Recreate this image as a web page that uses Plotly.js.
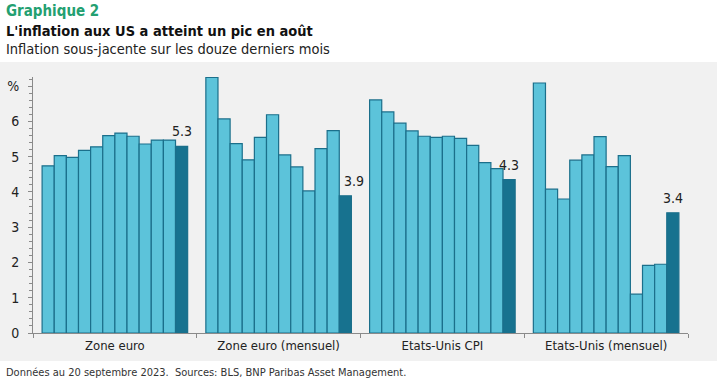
<!DOCTYPE html>
<html>
<head>
<meta charset="utf-8">
<script src="https://cdn.plot.ly/plotly-3.0.1.min.js"></script>
<style>html,body{margin:0;padding:0;background:#fff;}#chart{width:725px;height:382px;}</style>
</head>
<body>
<div id="chart"></div>
<script>
// ---- data ----
const groups = ["Zone euro", "Zone euro (mensuel)", "Etats-Unis CPI", "Etats-Unis (mensuel)"];
const zoneEuro = [4.74, 5.03, 4.98, 5.18, 5.28, 5.60, 5.67, 5.58, 5.36, 5.47, 5.47, 5.29];
const zoneEuroMensuel = [7.25, 6.07, 5.37, 4.91, 5.55, 6.19, 5.05, 4.71, 4.03, 5.23, 5.74, 3.89];
const usCPI = [6.61, 6.27, 5.95, 5.73, 5.58, 5.55, 5.58, 5.52, 5.32, 4.83, 4.66, 4.35];
const usMensuel = [7.09, 4.08, 3.80, 4.90, 5.05, 5.57, 4.72, 5.03, 1.10, 1.92, 1.95, 3.41];
const yTickVals = [0, 1, 2, 3, 4, 5, 6, 7];
const yTickText = ["0", "1", "2", "3", "4", "5", "6", "%"];
const lastLabels = ["5.3", "3.9", "4.3", "3.4"];

// ---- build ----
const FONT = "DejaVu Sans Condensed, Liberation Sans Narrow, Arial Narrow, sans-serif";
const series = [zoneEuro, zoneEuroMensuel, usCPI, usMensuel];
const GW = 13.5, PAD = 0.75;
const xs = [], ys = [], fills = [];
const annotations = [];
series.forEach((vals, g) => {
  vals.forEach((v, i) => {
    xs.push(g * GW + PAD + i + 0.5);
    ys.push(v);
    fills.push(i === vals.length - 1 ? "#17728f" : "#5cc3da");
  });
  const li = vals.length - 1;
  annotations.push({
    x: g * GW + PAD + li + 0.5, y: vals[li], xref: "x", yref: "y",
    text: lastLabels[g], showarrow: false, yshift: 15, xshift: g === 1 ? 9 : 0,
    font: {family: FONT, size: 14, color: "#222"}
  });
});

const L = 33, R = 37, T = 77, B = 49, W = 725, H = 382;
const pw = W - L - R, ph = H - T - B;
const px = x => (x - L) / pw;
const py = y => (H - B - y) / ph;

annotations.push(
  {xref: "paper", yref: "paper", x: px(4), y: py(11), xanchor: "left", yanchor: "middle", showarrow: false,
   text: "<b>Graphique 2</b>", font: {family: FONT, size: 15, color: "#23a071"}},
  {xref: "paper", yref: "paper", x: px(4), y: py(31), xanchor: "left", yanchor: "middle", showarrow: false,
   text: "<b>L'inflation aux US a atteint un pic en août</b>", font: {family: FONT, size: 14.5, color: "#111"}},
  {xref: "paper", yref: "paper", x: px(4), y: py(49), xanchor: "left", yanchor: "middle", showarrow: false,
   text: "Inflation sous-jacente sur les douze derniers mois", font: {family: FONT, size: 14.5, color: "#222"}},
  {xref: "paper", yref: "paper", x: px(4), y: py(372), xanchor: "left", yanchor: "middle", showarrow: false,
   text: "Données au 20 septembre 2023.  Sources: BLS, BNP Paribas Asset Management.", font: {family: FONT, size: 11, color: "#333"}}
);

const trace = {
  type: "bar", x: xs, y: ys, width: 1,
  marker: {color: fills, line: {color: "#1b6f8b", width: 1.2}},
  hoverinfo: "skip"
};

const layout = {
  width: W, height: H,
  margin: {l: L, r: R, t: T, b: B, pad: 0},
  paper_bgcolor: "#ffffff", plot_bgcolor: "rgba(0,0,0,0)",
  showlegend: false,
  font: {family: FONT, color: "#222"},
  xaxis: {
    range: [0, 4 * GW], showgrid: false, zeroline: false,
    showline: true, linecolor: "#8a8a8a", linewidth: 1,
    tickmode: "array", tickvals: groups.map((_, g) => g * GW + GW / 2), ticktext: groups,
    ticks: "", tickfont: {family: FONT, size: 13, color: "#222"},
    minor: {tickmode: "linear", tick0: 0, dtick: GW, ticks: "outside", ticklen: 4, tickcolor: "#8a8a8a", tickwidth: 1, showgrid: false},
    fixedrange: true
  },
  yaxis: {
    range: [0, 7.26], showgrid: false, zeroline: false,
    showline: true, linecolor: "#8a8a8a", linewidth: 1,
    tickmode: "array", tickvals: yTickVals, ticktext: yTickText,
    ticks: "outside", ticklen: 4, tickcolor: "#8a8a8a",
    tickfont: {family: FONT, size: 14, color: "#222"},
    minor: {dtick: 0.2, ticks: "outside", ticklen: 3, tickcolor: "#8a8a8a", showgrid: false},
    ticklabelstandoff: 6,
    fixedrange: true
  },
  shapes: [{
    type: "rect", xref: "paper", yref: "paper", layer: "below",
    x0: px(0), x1: px(717), y0: py(361), y1: py(62),
    fillcolor: "#f1f1f1", line: {width: 0}
  }],
  annotations: annotations
};

Plotly.newPlot("chart", [trace], layout, {staticPlot: true, displayModeBar: false});
</script>
</body>
</html>
